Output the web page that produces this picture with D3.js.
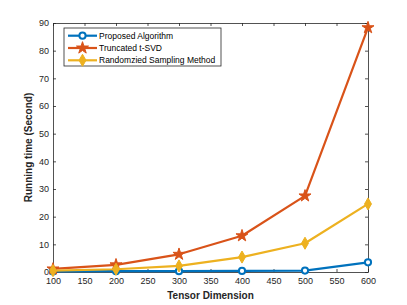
<!DOCTYPE html>
<html>
<head>
<meta charset="utf-8">
<script src="https://cdn.jsdelivr.net/npm/d3@7"></script>
<style>
  body { margin: 0; background: #fff; }
  svg { display: block; font-family: "Liberation Sans", Arial, sans-serif; }
</style>
</head>
<body>
<div id="chart"></div>
<script>
var width = 407;
var height = 305;

// data
var dims = [100, 200, 300, 400, 500, 600];
var proposed = [0.2, 0.3, 0.3, 0.4, 0.5, 3.5];
var truncated = [1.1, 2.6, 6.4, 13.1, 27.5, 88.3];
var randomized = [0.5, 1.0, 2.2, 5.4, 10.4, 24.6];
var seriesNames = ["Proposed Algorithm", "Truncated t-SVD", "Randomzied Sampling Method"];
var xTicks = [100, 150, 200, 250, 300, 350, 400, 450, 500, 550, 600];
var yTicks = [0, 10, 20, 30, 40, 50, 60, 70, 80, 90];

var colors = ["#0072BD", "#D95319", "#EDB120"];

var margin = {left: 53, right: 39, top: 23, bottom: 33};
var innerW = width - margin.left - margin.right;
var innerH = height - margin.top - margin.bottom;

var svg = d3.select("#chart").append("svg")
    .attr("width", width)
    .attr("height", height);

var x = d3.scaleLinear().domain([100, 600]).range([0, innerW]);
var y = d3.scaleLinear().domain([0, 90]).range([innerH, 0]);

var g = svg.append("g")
    .attr("transform", "translate(" + margin.left + "," + margin.top + ")");

// axes, MATLAB style: ticks inside, box on
function styleAxis(sel) {
  sel.select(".domain").attr("stroke", "#262626").attr("stroke-width", 0.8);
  sel.selectAll(".tick line").attr("stroke", "#262626").attr("stroke-width", 0.8);
  sel.selectAll(".tick text").attr("fill", "#262626").style("font-size", "9px");
}

g.append("g")
    .attr("transform", "translate(0," + innerH + ")")
    .call(d3.axisBottom(x).tickValues(xTicks).tickSizeInner(-3).tickSizeOuter(0).tickPadding(6))
    .call(styleAxis);

g.append("g")
    .call(d3.axisLeft(y).tickValues(yTicks).tickSizeInner(-3).tickSizeOuter(0).tickPadding(4))
    .call(styleAxis);

g.append("g")
    .call(d3.axisTop(x).tickValues(xTicks).tickSizeInner(-3).tickSizeOuter(0).tickFormat(""))
    .call(styleAxis);

g.append("g")
    .attr("transform", "translate(" + innerW + ",0)")
    .call(d3.axisRight(y).tickValues(yTicks).tickSizeInner(-3).tickSizeOuter(0).tickFormat(""))
    .call(styleAxis);

// lines
var allSeries = [proposed, truncated, randomized];
var line = d3.line()
    .x(function(d, i) { return x(dims[i]); })
    .y(function(d) { return y(d); });

function symbolPath(k) {
  var type = k === 0 ? d3.symbolCircle : (k === 1 ? d3.symbolStar : d3.symbolDiamond);
  var size = k === 0 ? 30 : (k === 1 ? 45 : 42);
  return d3.symbol().type(type).size(size)();
}

function addMarker(sel, k) {
  sel.attr("d", symbolPath(k))
      .attr("fill", k === 0 ? "#fff" : colors[k])
      .attr("stroke", colors[k])
      .attr("stroke-width", k === 0 ? 2 : 1);
}

allSeries.forEach(function(vals, k) {
  g.append("path")
      .datum(vals)
      .attr("fill", "none")
      .attr("stroke", colors[k])
      .attr("stroke-width", 2.2)
      .attr("stroke-linejoin", "round")
      .attr("d", line);

  g.selectAll(".m" + k)
      .data(vals)
    .enter().append("path")
      .attr("class", "m" + k)
      .attr("transform", function(d, i) { return "translate(" + x(dims[i]) + "," + y(d) + ")"; })
      .call(addMarker, k);
});

// legend
var legend = svg.append("g").attr("transform", "translate(64,28)");
legend.append("rect")
    .attr("width", 157)
    .attr("height", 38)
    .attr("fill", "#fff")
    .attr("stroke", "#262626")
    .attr("stroke-width", 0.8);

seriesNames.forEach(function(name, k) {
  var ly = 7.7 + k * 12.3;
  legend.append("line")
      .attr("x1", 4).attr("x2", 33)
      .attr("y1", ly).attr("y2", ly)
      .attr("stroke", colors[k])
      .attr("stroke-width", 2.2);
  legend.append("path")
      .attr("transform", "translate(18.5," + ly + ")")
      .call(addMarker, k);
  legend.append("text")
      .attr("x", 35)
      .attr("y", ly)
      .attr("dy", "0.35em")
      .attr("fill", "#000")
      .style("font-size", "8.5px")
      .text(name);
});

// axis titles
svg.append("text")
    .attr("x", margin.left + innerW / 2)
    .attr("y", 299)
    .attr("text-anchor", "middle")
    .attr("fill", "#262626")
    .style("font-size", "10px")
    .style("font-weight", "bold")
    .text("Tensor Dimension");

svg.append("text")
    .attr("transform", "translate(32," + (margin.top + innerH / 2) + ") rotate(-90)")
    .attr("text-anchor", "middle")
    .attr("fill", "#262626")
    .style("font-size", "10px")
    .style("font-weight", "bold")
    .text("Running time (Second)");
</script>
</body>
</html>
